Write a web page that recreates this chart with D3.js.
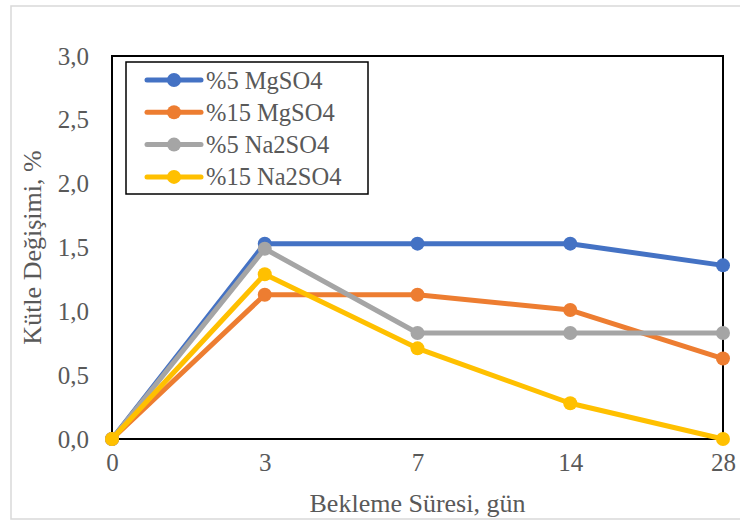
<!DOCTYPE html>
<html>
<head>
<meta charset="utf-8">
<script src="https://cdn.jsdelivr.net/npm/d3@7/dist/d3.min.js"></script>
<style>
  html, body { margin: 0; padding: 0; background: #fff; }
  svg { display: block; }
  text { font-family: "Liberation Serif", "Times New Roman", serif; fill: #595959; }
</style>
</head>
<body>
<svg id="chart" width="740" height="525"></svg>
<script>
// Curing time (days) on the x axis
const days = ["0", "3", "7", "14", "28"];
const yTicks = [0, 0.5, 1.0, 1.5, 2.0, 2.5, 3.0];

// Mass change (%) per solution
const seriesNames = ["%5 MgSO4", "%15 MgSO4", "%5 Na2SO4", "%15 Na2SO4"];
const mg5  = [0, 1.53, 1.53, 1.53, 1.36];
const mg15 = [0, 1.13, 1.13, 1.01, 0.63];
const na5  = [0, 1.49, 0.83, 0.83, 0.83];
const na15 = [0, 1.29, 0.71, 0.28, 0.00];
const colors = ["#4472C4", "#ED7D31", "#A5A5A5", "#FFC000"];

const series = [mg5, mg15, na5, na15].map((vals, i) => ({
  name: seriesNames[i], color: colors[i],
  points: vals.map((v, j) => ({ day: days[j], value: v }))
}));

const svg = d3.select("#chart");
const plot = { left: 112, right: 723, top: 56, bottom: 439 };
const serif = "'Liberation Serif', 'Times New Roman', serif";

// outer chart frame
svg.append("rect")
  .attr("x", 11).attr("y", 6).attr("width", 740).attr("height", 513)
  .attr("fill", "none").attr("stroke", "#d9d9d9").attr("stroke-width", 1.5);

const x = d3.scalePoint().domain(days).range([plot.left, plot.right]);
const y = d3.scaleLinear().domain([0, 3]).range([plot.bottom, plot.top]);

// y axis labels
const yAxis = d3.axisLeft(y).tickValues(yTicks).tickSize(0).tickPadding(23)
  .tickFormat(d => d3.format(".1f")(d).replace(".", ","));
svg.append("g").attr("transform", `translate(${plot.left},0)`).call(yAxis)
  .attr("font-family", serif)
  .call(g => g.select(".domain").remove())
  .selectAll("text")
  .style("font-size", "25px")
  .attr("fill", "#595959");

// x axis labels
const xAxis = d3.axisBottom(x).tickSize(0).tickPadding(14);
svg.append("g").attr("transform", `translate(0,${plot.bottom})`).call(xAxis)
  .attr("font-family", serif)
  .call(g => g.select(".domain").remove())
  .selectAll("text")
  .style("font-size", "25px")
  .attr("fill", "#595959");

// plot area border
svg.append("rect")
  .attr("x", plot.left).attr("y", plot.top)
  .attr("width", plot.right - plot.left).attr("height", plot.bottom - plot.top)
  .attr("fill", "none").attr("stroke", "#000").attr("stroke-width", 2);

// axis titles
svg.append("text")
  .attr("x", (plot.left + plot.right) / 2).attr("y", 512)
  .attr("text-anchor", "middle").style("font-size", "26px")
  .text("Bekleme Süresi, gün");

svg.append("text")
  .attr("transform", `translate(41,${(plot.top + plot.bottom) / 2}) rotate(-90)`)
  .attr("text-anchor", "middle").style("font-size", "26px")
  .text("Kütle Değişimi, %");

// series lines and markers
const line = d3.line().x(d => x(d.day)).y(d => y(d.value));
const sg = svg.append("g").selectAll("g").data(series).join("g");
sg.append("path")
  .attr("d", d => line(d.points))
  .attr("fill", "none").attr("stroke", d => d.color)
  .attr("stroke-width", 5).attr("stroke-linejoin", "round");
sg.selectAll("circle").data(d => d.points.map(p => ({ ...p, color: d.color })))
  .join("circle")
  .attr("cx", d => x(d.day)).attr("cy", d => y(d.value)).attr("r", 7)
  .attr("fill", d => d.color);

// legend
const lg = svg.append("g");
lg.append("rect")
  .attr("x", 126).attr("y", 62).attr("width", 242).attr("height", 132)
  .attr("fill", "#fff").attr("stroke", "#000").attr("stroke-width", 1.5);
const rows = lg.selectAll("g.row").data(series).join("g")
  .attr("class", "row")
  .attr("transform", (d, i) => `translate(0,${80 + i * 32.3})`);
rows.append("line")
  .attr("x1", 147).attr("x2", 201).attr("y1", 0).attr("y2", 0)
  .attr("stroke", d => d.color).attr("stroke-width", 5).attr("stroke-linecap", "round");
rows.append("circle").attr("cx", 174).attr("cy", 0).attr("r", 7)
  .attr("fill", d => d.color);
rows.append("text")
  .attr("x", 206).attr("y", 8.5)
  .style("font-size", "24.5px")
  .text(d => d.name);
</script>
</body>
</html>
